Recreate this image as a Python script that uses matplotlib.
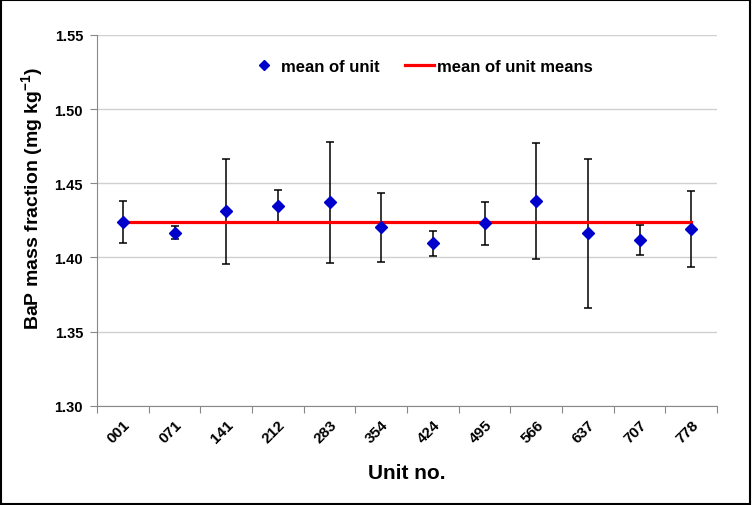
import matplotlib
matplotlib.use("Agg")
import matplotlib.pyplot as plt
from matplotlib.patches import Rectangle
import numpy as np

plt.rcParams["font.family"] = ["Liberation Sans", "DejaVu Sans"]
plt.rcParams["font.weight"] = "bold"
plt.rcParams["mathtext.fontset"] = "custom"
plt.rcParams["mathtext.bf"] = "Liberation Sans:bold"
plt.rcParams["mathtext.rm"] = "Liberation Sans:bold"

# data
units = ["001", "071", "141", "212", "283", "354", "424", "495", "566", "637", "707", "778"]
unit_means = [1.4242, 1.4166, 1.4312, 1.4345, 1.4372, 1.4204, 1.4096, 1.4235, 1.4379, 1.4166, 1.4121, 1.4193]
err_up = [0.0139, 0.0045, 0.0355, 0.0111, 0.0406, 0.0233, 0.0085, 0.0142, 0.0391, 0.0501, 0.0101, 0.0258]
err_dn = [0.0142, 0.0041, 0.0353, 0.0111, 0.0406, 0.0234, 0.0085, 0.0148, 0.0391, 0.0506, 0.0103, 0.0256]
grand_mean = 1.4238

fig = plt.figure(figsize=(7.52, 5.06), dpi=100, facecolor="white")
ax = fig.add_axes((0.129, 0.196, 0.8245, 0.733))

x = np.arange(len(units))
ax.errorbar(x, unit_means, yerr=[err_dn, err_up], fmt="none", ecolor="black",
            elinewidth=1.1, capsize=2.6, capthick=1.1, zorder=2)
ax.plot(x, [grand_mean] * len(units), color="#ff0000", lw=2.3, zorder=3,
        label="mean of unit means")
ax.plot(x, unit_means, ls="none", marker="D", ms=6.2, color="#0000cc",
        markeredgecolor="#0000cc", zorder=4, label="mean of unit")

ax.set_xlim(-0.5, len(units) - 0.5)
ax.set_ylim(1.30, 1.55)
yt = np.arange(1.30, 1.551, 0.05)
ax.set_yticks(yt)
ax.set_yticklabels([f"{v:.2f}" for v in yt], fontsize=10.5, fontweight="bold")
ax.yaxis.grid(True, color="#d0d0d0", lw=1)
ax.set_axisbelow(True)

# category ticks sit between units, labels at centres
ax.set_xticks(np.arange(-0.5, len(units), 1.0))
ax.set_xticklabels([])
ax.set_xticks(x, minor=True)
ax.set_xticklabels(units, minor=True, rotation=45, ha="right", va="top",
                   rotation_mode="anchor", fontsize=11, fontweight="bold")
ax.tick_params(axis="x", which="minor", length=0, pad=8)
ax.tick_params(axis="x", which="major", length=5, color="#888888", direction="out")
ax.tick_params(axis="y", length=5, color="#888888", direction="out", pad=5)

for s in ["top", "right"]:
    ax.spines[s].set_visible(False)
for s in ["left", "bottom"]:
    ax.spines[s].set_color("#888888")

ax.set_xlabel("Unit no.", fontsize=15, fontweight="bold", labelpad=13)
ax.set_ylabel("BaP mass fraction (mg kg$^{\\mathrm{-1}}$)", fontsize=14, fontweight="bold")
ax.yaxis.set_label_coords(-0.083, 0.561)

h, l = ax.get_legend_handles_labels()
ax.legend([h[1], h[0]], [l[1], l[0]], loc="center", bbox_to_anchor=(0.5226, 0.914), ncol=2,
          frameon=False, handlelength=1.75, handletextpad=0.18, markerscale=0.75,
          columnspacing=1.5, prop={"weight": "bold", "size": 12})

fig.add_artist(Rectangle((0.001, 0.001), 0.997, 0.997, transform=fig.transFigure,
                         fill=False, edgecolor="black", lw=1.5))

fig.savefig("out.png", dpi=100, facecolor="white")
